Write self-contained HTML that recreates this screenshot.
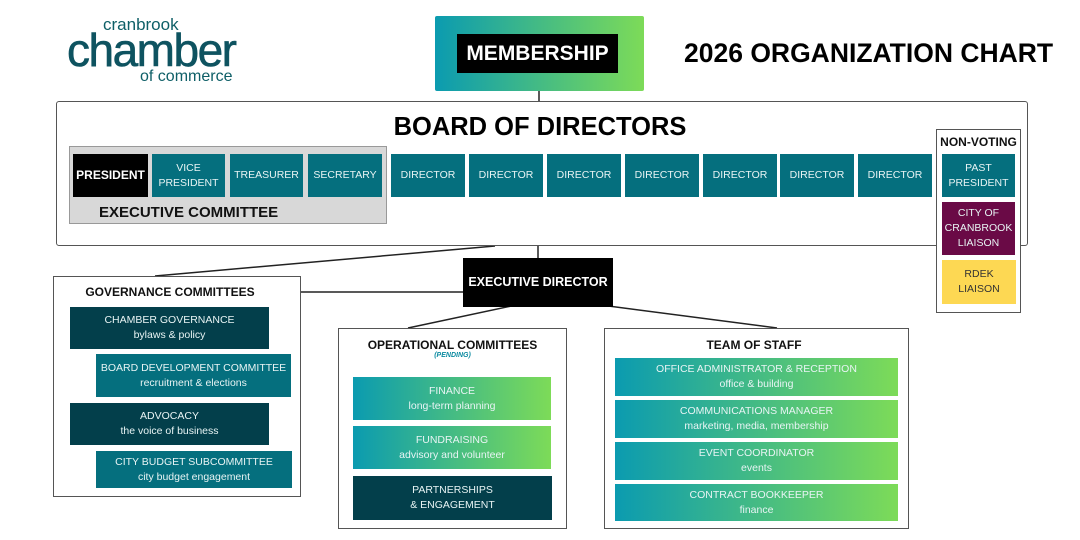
<!DOCTYPE html>
<html><head><meta charset="utf-8"><style>
*{margin:0;padding:0;box-sizing:border-box}
body{width:1080px;height:540px;background:#fff;position:relative;overflow:hidden;font-family:"Liberation Sans",sans-serif}
.a{position:absolute}
.b{position:absolute;display:flex;align-items:center;justify-content:center;text-align:center;color:#e8f4f4;font-size:10.5px;line-height:15px}
.t{background:#056f7e}
.d{background:#033f4b}
.g{background:linear-gradient(90deg,#0b9bb0,#7ddb58)}
.box{position:absolute;border:1.5px solid #555;background:#fff}
.h{position:absolute;font-weight:bold;color:#111;text-align:center}
</style></head><body>
<svg class="a" style="left:0;top:0" width="1080" height="540">
<g stroke="#222" stroke-width="1.5" fill="none">
<line x1="539" y1="91" x2="539" y2="101"/>
<line x1="538" y1="246" x2="538" y2="258"/>
<line x1="495" y1="246" x2="155" y2="276"/>
<line x1="301" y1="292" x2="463" y2="292"/>
<line x1="577" y1="292" x2="408" y2="328"/>
<line x1="555" y1="299" x2="777" y2="328"/>
<line x1="157" y1="349" x2="157" y2="354"/>
<line x1="157" y1="445" x2="157" y2="451"/>
</g></svg>
<div class="a" style="left:103px;top:15px;font-size:17px;color:#0e5f67">cranbrook</div>
<div class="a" style="left:67px;top:26px;font-size:46px;color:#0e5360;letter-spacing:-1.5px;line-height:48px;-webkit-text-stroke:0.6px #0e5360">chamber</div>
<div class="a" style="left:140px;top:68px;font-size:16px;color:#0e5f67">of commerce</div>
<div class="a g" style="left:435px;top:16px;width:209px;height:75px;border-radius:2px"></div>
<div class="b" style="left:457px;top:34px;width:161px;height:39px;background:#000;color:#fff;font-weight:bold;font-size:21px">MEMBERSHIP</div>
<div class="a" style="left:684px;top:38px;font-size:26.5px;font-weight:bold;color:#000;white-space:nowrap">2026 ORGANIZATION CHART</div>
<div class="box" style="left:56px;top:101px;width:972px;height:145px;border-radius:3px"></div>
<div class="h" style="left:340px;top:113px;width:400px;font-size:25.5px;color:#000">BOARD OF DIRECTORS</div>
<div class="a" style="left:69px;top:146px;width:318px;height:78px;background:#d8d8d8;border:1.5px solid #999"></div>
<div class="h" style="left:99px;top:204px;font-size:15px">EXECUTIVE COMMITTEE</div>
<div class="b" style="left:73px;top:154px;width:75px;height:43px;background:#000;color:#fff;font-weight:bold;font-size:12px">PRESIDENT</div>
<div class="b t" style="left:152px;top:154px;width:73px;height:43px">VICE<br>PRESIDENT</div>
<div class="b t" style="left:230px;top:154px;width:73px;height:43px">TREASURER</div>
<div class="b t" style="left:308px;top:154px;width:74px;height:43px">SECRETARY</div>
<div class="b t" style="left:391px;top:154px;width:74px;height:43px">DIRECTOR</div>
<div class="b t" style="left:469px;top:154px;width:74px;height:43px">DIRECTOR</div>
<div class="b t" style="left:547px;top:154px;width:74px;height:43px">DIRECTOR</div>
<div class="b t" style="left:625px;top:154px;width:74px;height:43px">DIRECTOR</div>
<div class="b t" style="left:703px;top:154px;width:74px;height:43px">DIRECTOR</div>
<div class="b t" style="left:780px;top:154px;width:74px;height:43px">DIRECTOR</div>
<div class="b t" style="left:858px;top:154px;width:74px;height:43px">DIRECTOR</div>
<div class="box" style="left:936px;top:129px;width:85px;height:184px"></div>
<div class="h" style="left:936px;top:135px;width:85px;font-size:12px">NON-VOTING</div>
<div class="b t" style="left:942px;top:154px;width:73px;height:43px">PAST<br>PRESIDENT</div>
<div class="b" style="left:942px;top:202px;width:73px;height:53px;background:#6a0a46">CITY OF<br>CRANBROOK<br>LIAISON</div>
<div class="b" style="left:942px;top:260px;width:74px;height:44px;background:#fdd853;color:#333">RDEK<br>LIAISON</div>
<div class="b" style="left:463px;top:258px;width:150px;height:49px;background:#000;color:#fff;font-weight:bold;font-size:12.5px">EXECUTIVE DIRECTOR</div>
<div class="box" style="left:53px;top:276px;width:248px;height:221px"></div>
<div class="h" style="left:53px;top:285px;width:234px;font-size:12px">GOVERNANCE COMMITTEES</div>
<div class="b d" style="left:70px;top:307px;width:199px;height:42px">CHAMBER GOVERNANCE<br>bylaws &amp; policy</div>
<div class="b t" style="left:96px;top:354px;width:195px;height:43px">BOARD DEVELOPMENT COMMITTEE<br>recruitment &amp; elections</div>
<div class="b d" style="left:70px;top:403px;width:199px;height:42px">ADVOCACY<br>the voice of business</div>
<div class="b t" style="left:96px;top:451px;width:196px;height:37px">CITY BUDGET SUBCOMMITTEE<br>city budget engagement</div>
<div class="box" style="left:338px;top:328px;width:229px;height:201px"></div>
<div class="h" style="left:338px;top:338px;width:229px;font-size:12px">OPERATIONAL COMMITTEES</div>
<div class="h" style="left:338px;top:352px;width:229px;font-size:7px;font-style:italic;color:#0b8aa0">(PENDING)</div>
<div class="b g" style="left:353px;top:377px;width:198px;height:43px">FINANCE<br>long-term planning</div>
<div class="b g" style="left:353px;top:426px;width:198px;height:43px">FUNDRAISING<br>advisory and volunteer</div>
<div class="b d" style="left:353px;top:476px;width:199px;height:44px">PARTNERSHIPS<br>&amp; ENGAGEMENT</div>
<div class="box" style="left:604px;top:328px;width:305px;height:201px"></div>
<div class="h" style="left:604px;top:338px;width:300px;font-size:12px">TEAM OF STAFF</div>
<div class="b g" style="left:615px;top:358px;width:283px;height:38px">OFFICE ADMINISTRATOR &amp; RECEPTION<br>office &amp; building</div>
<div class="b g" style="left:615px;top:400px;width:283px;height:38px">COMMUNICATIONS MANAGER<br>marketing, media, membership</div>
<div class="b g" style="left:615px;top:442px;width:283px;height:38px">EVENT COORDINATOR<br>events</div>
<div class="b g" style="left:615px;top:484px;width:283px;height:37px">CONTRACT BOOKKEEPER<br>finance</div>
</body></html>
